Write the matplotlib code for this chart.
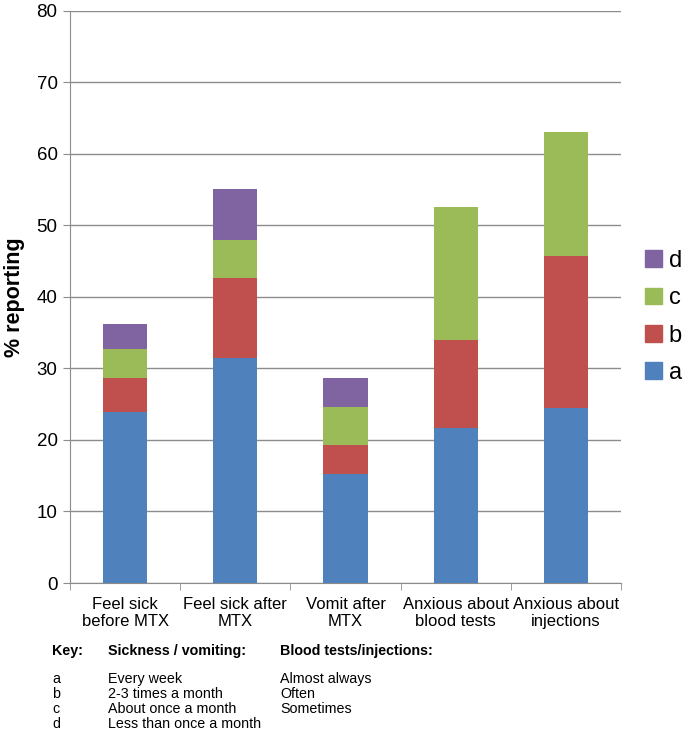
import numpy as np
import matplotlib
matplotlib.use("Agg")
import matplotlib.pyplot as plt
from matplotlib.patches import Patch

plt.rcParams["font.family"] = ["Liberation Sans", "DejaVu Sans"]

categories = ["Feel sick\nbefore MTX", "Feel sick after\nMTX", "Vomit after\nMTX",
              "Anxious about\nblood tests", "Anxious about\ninjections"]
series = ["a", "b", "c", "d"]
# cumulative tops, turned into segment heights below
tops_a = [23.9, 31.5, 15.2, 21.6, 24.4]
tops_b = [28.6, 42.6, 19.3, 33.9, 45.7]
tops_c = [32.7, 47.9, 24.6, 52.5, 63.0]
tops_d = [36.2, 55.0, 28.6, 52.5, 63.0]
colors = ["#4F81BD", "#C0504D", "#9BBB59", "#8064A2"]

key_rows = ["a", "b", "c", "d"]
key_sick = ["Every week", "2-3 times a month", "About once a month", "Less than once a month"]
key_blood = ["Almost always", "Often", "Sometimes", ""]

tops = np.array([tops_a, tops_b, tops_c, tops_d])
heights = np.diff(np.vstack([np.zeros(len(categories)), tops]), axis=0)

fig = plt.figure(figsize=(6.85, 7.35), dpi=100)
ax = fig.add_axes([70 / 685, 1 - 583 / 735, 551 / 685, 572.5 / 735])

x = np.arange(len(categories))
bottom = np.zeros(len(categories))
for h, c in zip(heights, colors):
    ax.bar(x, h, bottom=bottom, width=0.4, color=c, zorder=3)
    bottom += h

ax.set_xlim(-0.5, len(categories) - 0.5)
ax.set_ylim(0, 80)
ax.set_yticks(range(0, 81, 10))
ax.yaxis.grid(True, color="#8c8c8c", lw=1)
ax.set_axisbelow(True)
for s in ("top", "right"):
    ax.spines[s].set_visible(False)
for s in ("left", "bottom"):
    ax.spines[s].set_color("#8c8c8c")
ax.set_xticks(x)
ax.set_xticklabels(categories, fontsize=12, linespacing=1.2)
ax.set_xticks(np.arange(-0.5, len(categories)), minor=True)
ax.tick_params(axis="x", which="major", length=0, pad=10)
ax.tick_params(axis="x", which="minor", length=5, color="#8c8c8c")
ax.tick_params(axis="y", length=5, color="#8c8c8c", labelsize=13.5, pad=4)
ax.set_ylabel("% reporting", fontsize=15.5, fontweight="bold", labelpad=8)

handles = [Patch(color=c, label=s) for s, c in zip(series, colors)][::-1]
fig.legend(handles=handles, loc="center left", bbox_to_anchor=(645 / 685, 1 - 317 / 735),
           frameon=False, fontsize=17, handlelength=0.7, handleheight=0.7,
           handletextpad=0.3, labelspacing=0.65, borderpad=0, borderaxespad=0)

# key below the chart
fs = 10.3
fig.text(52 / 685, 1 - 651 / 735, "Key:", fontsize=fs, fontweight="bold", va="center")
fig.text(108 / 685, 1 - 651 / 735, "Sickness / vomiting:", fontsize=fs, fontweight="bold", va="center")
fig.text(280 / 685, 1 - 651 / 735, "Blood tests/injections:", fontsize=fs, fontweight="bold", va="center")
for i, (k, s1, s2) in enumerate(zip(key_rows, key_sick, key_blood)):
    yy = 1 - (679 + 15 * i) / 735
    fig.text(52 / 685, yy, k, fontsize=fs, va="center")
    fig.text(108 / 685, yy, s1, fontsize=fs, va="center")
    fig.text(280 / 685, yy, s2, fontsize=fs, va="center")

fig.savefig("out.png", dpi=100)
